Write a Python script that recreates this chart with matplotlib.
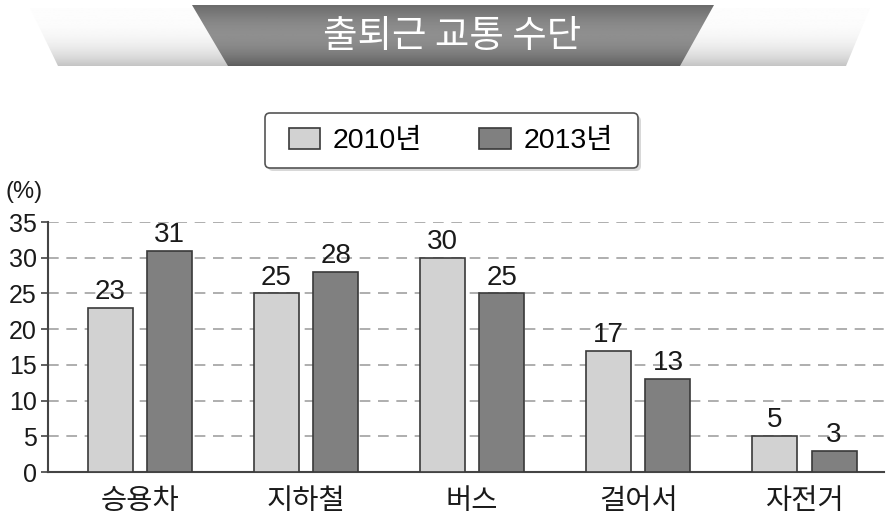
import numpy as np
import matplotlib
matplotlib.use('Agg')
from matplotlib import pyplot as plt
from matplotlib.patches import Polygon, FancyBboxPatch

plt.rcParams['font.family'] = ['Liberation Sans', 'Noto Sans CJK KR', 'DejaVu Sans']

title = '출퇴근 교통 수단'
categories = ['승용차', '지하철', '버스', '걸어서', '자전거']
series_names = ['2010년', '2013년']
values_2010 = [23, 25, 30, 17, 5]
values_2013 = [31, 28, 25, 13, 3]
yticks = [0, 5, 10, 15, 20, 25, 30, 35]

W, H = 887, 518
fig = plt.figure(figsize=(W / 100, H / 100), dpi=100)
fig.patch.set_facecolor('white')

# overlay axes in pixel coords (top-left origin) for the banner and legend box
pax = fig.add_axes([0, 0, 1, 1])
pax.set_xlim(0, W)
pax.set_ylim(H, 0)
pax.axis('off')

light = Polygon([(30, 8), (870, 8), (846, 66), (58, 66)], closed=True,
                facecolor='none', edgecolor='none')
pax.add_patch(light)
g = np.linspace(0, 1, 100)
grad_light = np.clip(0.99 - 0.22 * g ** 3, 0, 1)[:, None]
im = pax.imshow(np.repeat(grad_light, 2, axis=1), cmap='gray', vmin=0, vmax=1,
                extent=(0, W, 66, 8), aspect='auto')
im.set_clip_path(light)

dark = Polygon([(192, 5), (714, 5), (680, 66), (228, 66)], closed=True,
               facecolor='none', edgecolor='none')
pax.add_patch(dark)
grad_dark = (0.42 + 0.14 * np.sin(np.pi * g) - 0.05 * g ** 6)[:, None]
im2 = pax.imshow(np.repeat(grad_dark, 2, axis=1), cmap='gray', vmin=0, vmax=1,
                 extent=(0, W, 66, 5), aspect='auto')
im2.set_clip_path(dark)
pax.text(452, 36, title, color='white', fontsize=27, ha='center', va='center',
         family=['Noto Sans CJK KR', 'DejaVu Sans'])

# legend frame with a soft shadow
pax.add_patch(FancyBboxPatch((268, 116), 373, 55, boxstyle='round,pad=0,rounding_size=5',
                             facecolor='#d8d8d8', edgecolor='none'))
pax.add_patch(FancyBboxPatch((265, 113), 373, 55, boxstyle='round,pad=0,rounding_size=5',
                             facecolor='white', edgecolor='#555555', linewidth=1.2))
pax.set_xlim(0, W)
pax.set_ylim(H, 0)

# main chart
ax = fig.add_axes([48 / W, 46 / H, 836 / W, 250 / H])
x = np.arange(len(categories))
w = 0.271
off = 0.179
b1 = ax.bar(x - off, values_2010, w, color='#d2d2d2', edgecolor='#3a3a3a',
            linewidth=1.2, label=series_names[0], zorder=3)
b2 = ax.bar(x + off, values_2013, w, color='#808080', edgecolor='#3a3a3a',
            linewidth=1.2, label=series_names[1], zorder=3)

for rects, vals in [(b1, values_2010), (b2, values_2013)]:
    for r, v in zip(rects, vals):
        ax.text(r.get_x() + r.get_width() / 2, v + 0.4, str(v), ha='center',
                va='bottom', fontsize=20, color='#1a1a1a')

ax.set_xlim(-0.554, 4.48)
ax.set_ylim(0, 35)
ax.set_yticks(yticks)
ax.set_yticklabels([str(t) for t in yticks], fontsize=18, color='#1a1a1a')
ax.set_xticks(x)
ax.set_xticklabels(categories, fontsize=20.5, color='#1a1a1a',
                   family=['Noto Sans CJK KR', 'DejaVu Sans'])
ax.tick_params(axis='x', length=0, pad=10)
ax.tick_params(axis='y', length=5, width=1.2, color='#444444', pad=3)
for t in yticks[1:]:
    ax.axhline(t, color='#999999', linewidth=1.1, dashes=(7, 5), zorder=1)
for s in ['top', 'right']:
    ax.spines[s].set_visible(False)
for s in ['left', 'bottom']:
    ax.spines[s].set_color('#444444')
    ax.spines[s].set_linewidth(1.5)
ax.set_facecolor('none')
ax.text((24 - 48) / 836, (472 - 192) / 250, '(%)', transform=ax.transAxes,
        fontsize=17, ha='center', va='center', color='#1a1a1a')

leg = fig.legend(handles=[b1, b2], labels=series_names, loc='center',
                 bbox_to_anchor=(451 / W, 1 - 141 / H), ncol=2,
                 handlelength=1.1, handleheight=0.8,
                 columnspacing=2.0, handletextpad=0.45, borderpad=0.3,
                 frameon=False,
                 prop={'family': ['Liberation Sans', 'Noto Sans CJK KR'], 'size': 20.5})

plt.savefig('out.png', dpi=100)
